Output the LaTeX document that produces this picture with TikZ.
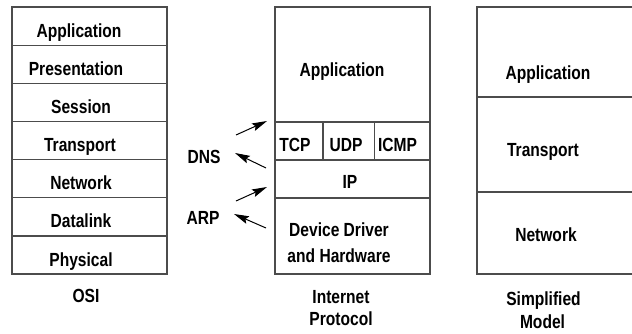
\documentclass[tikz,border=0pt]{standalone}
\usepackage{fontspec}
\newfontfamily\lbl{Liberation Sans}[FakeStretch=0.82]
\usetikzlibrary{arrows.meta}
\begin{document}
\begin{tikzpicture}[x=1pt,y=-1pt,
  frame/.style={draw=black!70,line width=1.2pt},
  rule/.style={draw=black!70,line width=1.2pt},
  txt/.style={anchor=base,inner sep=0pt,font=\lbl\bfseries\fontsize{19}{22}\selectfont},
  arr/.style={draw=black,line width=1pt,-{Stealth[length=15pt,width=8pt,inset=2.5pt]}}]
\useasboundingbox (0,0) rectangle (632,333);

% OSI stack
\draw[frame] (12,7) rectangle (167,274);
\foreach \y in {45.1,83.3,121.4,159.6,197.7,235.9}
  \draw[rule] (12,\y) -- (167,\y);
\node[txt] (osiapp) at (79,37.5) {Application};
\node[txt] (osipres) at (76,75.5) {Presentation};
\node[txt] (osises) at (81,113.5) {Session};
\node[txt] (ositra) at (80,151.5) {Transport};
\node[txt] (osinet) at (81,189.5) {Network};
\node[txt] (osidl) at (81,227.5) {Datalink};
\node[txt] (osiphy) at (81,266) {Physical};
\node[txt] (osi) at (86,302) {OSI};

% Internet protocol stack
\draw[frame] (275,7) rectangle (430,274);
\draw[rule] (275,122) -- (430,122);
\draw[rule] (275,160) -- (430,160);
\draw[rule] (275,198) -- (430,198);
\draw[rule] (323,122) -- (323,160);
\draw[rule] (374.3,122) -- (374.3,160);
\node[txt] (ipapp) at (342,76) {Application};
\node[txt] (tcp) at (295,151.5) {TCP};
\node[txt] (udp) at (346,151.5) {UDP};
\node[txt] (icmp) at (397.5,151.5) {ICMP};
\node[txt] (ip) at (350,188.5) {IP};
\node[txt] (dev) at (339,236) {Device Driver};
\node[txt] (hw) at (339,262) {and Hardware};
\node[txt] (inet) at (341,303) {Internet};
\node[txt] (proto) at (341,325.5) {Protocol};

% Resolver labels and arrows
\node[txt] (dns) at (204,163) {DNS};
\node[txt] (arp) at (203,224) {ARP};
\coordinate (a1s) at (236,135);
\coordinate (a1e) at (267,121);
\coordinate (a2s) at (266,168);
\coordinate (a2e) at (235,153);
\coordinate (a3s) at (236,201);
\coordinate (a3e) at (267,187);
\coordinate (a4s) at (266,228);
\coordinate (a4e) at (234,214);
\draw[arr] (a1s) -- (a1e);
\draw[arr] (a2s) -- (a2e);
\draw[arr] (a3s) -- (a3e);
\draw[arr] (a4s) -- (a4e);

% Simplified model (right edge runs past the picture border)
\draw[frame] (632,7) -- (477,7) -- (477,274) -- (632,274);
\draw[rule] (477,97) -- (632,97);
\draw[rule] (477,192) -- (632,192);
\node[txt] (sapp) at (548,79) {Application};
\node[txt] (stra) at (543,156) {Transport};
\node[txt] (snet) at (546,241) {Network};
\node[txt] (simp) at (543.5,305) {Simplified};
\node[txt] (model) at (542.5,328) {Model};
\end{tikzpicture}
\end{document}
